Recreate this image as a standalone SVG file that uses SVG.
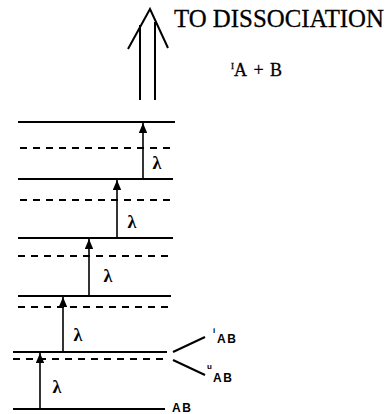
<svg xmlns="http://www.w3.org/2000/svg" width="386" height="414" viewBox="0 0 386 414">
<style>
.lvl{stroke:#000;stroke-width:2;fill:none}
.dash{stroke:#000;stroke-width:2.2;stroke-dasharray:7 6;fill:none}
.ar{stroke:#000;stroke-width:1.6;fill:none;marker-end:url(#ah)}
.lam{font-family:"Liberation Serif",serif;font-size:18px;font-weight:bold;fill:#000;text-anchor:middle}
.lab{font-family:"Liberation Sans",Arial,sans-serif;font-weight:bold;font-size:12px;fill:#000;letter-spacing:1.5px}
.sup{font-family:"Liberation Sans",Arial,sans-serif;font-weight:bold;font-size:8px;fill:#000}
.ser{font-family:"Liberation Serif","Times New Roman",serif;fill:#000;stroke:#000;stroke-width:0.3}
</style>
<defs>
<marker id="ah" viewBox="0 0 10 10" refX="10" refY="5" markerWidth="6.5" markerHeight="5.5" preserveAspectRatio="none" orient="auto" markerUnits="strokeWidth">
<path d="M0,0 L10,5 L0,10 z" fill="#000"/>
</marker>
</defs>
<rect width="386" height="414" fill="#fff"/>
<g id="dissociation-arrow" stroke="#000" stroke-width="2" fill="none">
<path d="M128,49 L150,9 L168,48"/>
<line x1="140" y1="25" x2="140" y2="100"/>
<line x1="155" y1="22" x2="155" y2="100"/>
</g>
<g id="title">
<text class="ser" x="174" y="27" font-size="25" textLength="210" lengthAdjust="spacingAndGlyphs">TO DISSOCIATION</text>
<text class="ser" x="231" y="69" font-size="9">I</text>
<text class="ser" x="234" y="76" font-size="18" textLength="48" lengthAdjust="spacing">A+B</text>
</g>
<g id="levels">
<line class="lvl" x1="18" y1="122" x2="175" y2="122"/>
<line class="dash" x1="20" y1="148" x2="174" y2="148"/>
<line class="lvl" x1="18" y1="179" x2="173" y2="179"/>
<line class="dash" x1="20" y1="200" x2="172" y2="200"/>
<line class="lvl" x1="18" y1="238" x2="173" y2="238"/>
<line class="dash" x1="18" y1="256" x2="172" y2="256"/>
<line class="lvl" x1="18" y1="296" x2="171" y2="296"/>
<line class="dash" x1="18" y1="307" x2="170" y2="307"/>
<line class="lvl" x1="13" y1="352" x2="167" y2="352"/>
<line class="dash" x1="13" y1="359" x2="167" y2="359"/>
<line class="lvl" x1="13" y1="409" x2="165" y2="409"/>
</g>
<g id="connectors">
<line class="ar" x1="40" y1="409" x2="40" y2="353"/>
<line class="ar" x1="63" y1="352" x2="63" y2="297"/>
<line class="ar" x1="89" y1="296" x2="89" y2="239"/>
<line class="ar" x1="117" y1="238" x2="117" y2="180"/>
<line class="ar" x1="143" y1="179" x2="143" y2="123"/>
<line x1="173" y1="352" x2="205" y2="337" stroke="#000" stroke-width="2"/>
<line x1="173" y1="360" x2="205" y2="375" stroke="#000" stroke-width="2"/>
</g>
<g id="lambdas">
<text class="lam" x="57" y="393">λ</text>
<text class="lam" x="78" y="341">λ</text>
<text class="lam" x="108" y="282">λ</text>
<text class="lam" x="132" y="228">λ</text>
<text class="lam" x="157" y="169">λ</text>
</g>
<g id="labels">
<text class="sup" x="213" y="333">i</text>
<text class="lab" x="217" y="343">AB</text>
<text class="sup" x="207" y="369">u</text>
<text class="lab" x="213" y="382">AB</text>
<text class="lab" x="172" y="412" font-size="11">AB</text>
</g>
</svg>
